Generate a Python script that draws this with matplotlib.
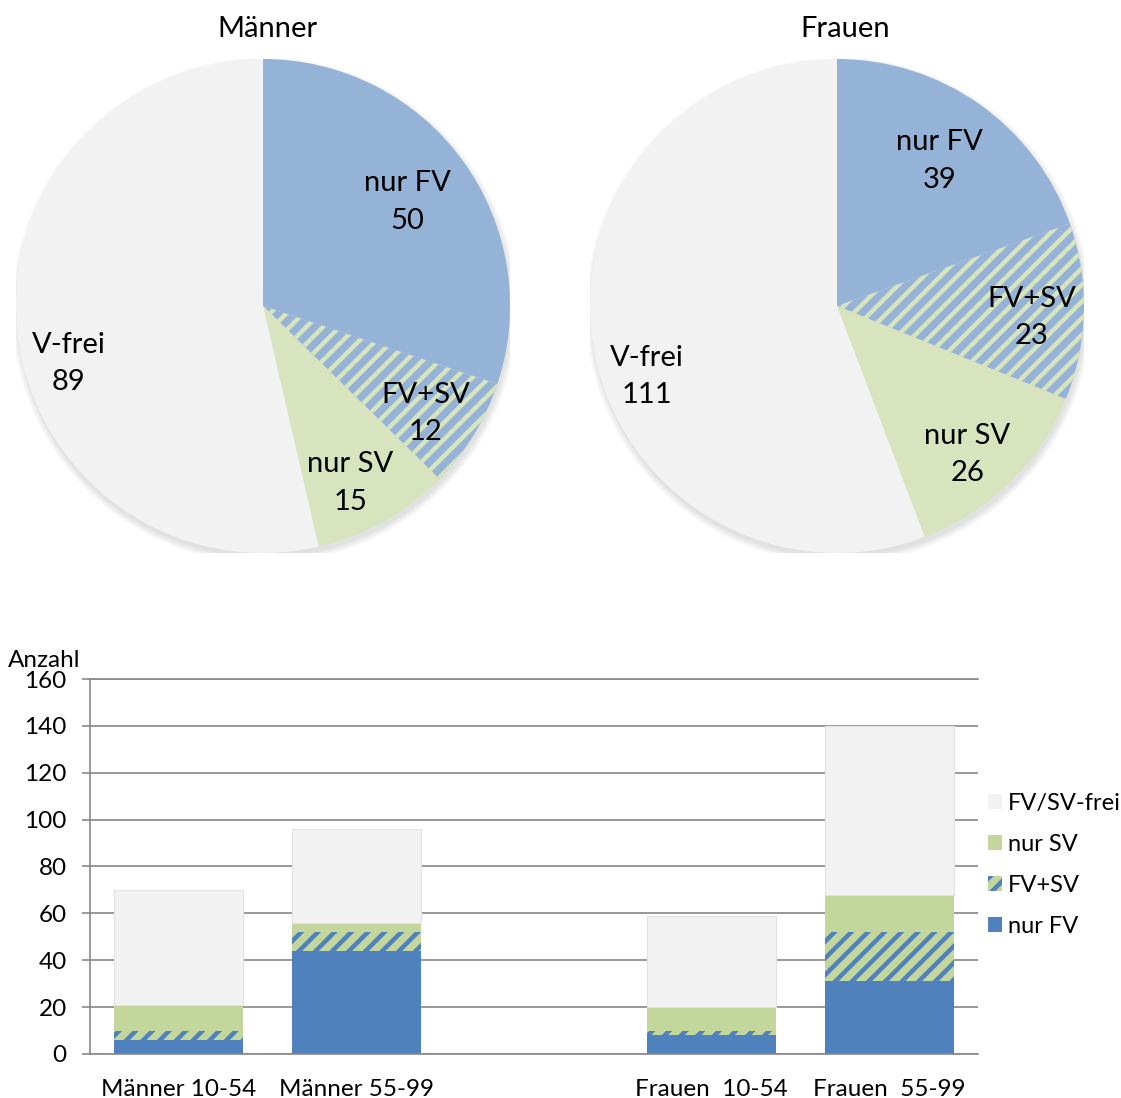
import numpy as np
import matplotlib.pyplot as plt
from matplotlib.patches import Patch, Circle

plt.rcParams['font.family'] = ['Lato', 'DejaVu Sans']
plt.rcParams['hatch.linewidth'] = 3.2

# pie slices, clockwise from 12 o'clock
pie_names = ['nur FV', 'FV+SV', 'nur SV', 'V-frei']
maenner = [50, 12, 15, 89]
frauen = [39, 23, 26, 111]

# stacked bars per sex and age group
groups = ['Männer 10-54', 'Männer 55-99', 'Frauen  10-54', 'Frauen  55-99']
nur_fv = [6, 44, 8, 31]
fv_sv = [4, 8, 2, 21]
nur_sv = [11, 4, 10, 16]
frei = [49, 40, 39, 72]

# colours
pie_cols = ['#95B3D7', '#95B3D7', '#D7E4BD', '#F2F2F2']
pie_hatch = '#D7E4BD'
blue = '#4F81BD'
green = '#C3D69B'
grey = '#F2F2F2'
axis_grey = '#888888'

# label placement inside the pies (radius, angle shift from slice middle)
lab_r = [0.72, 0.79, 0.80, 0.82]
lab_shift = [0, -2, -3, 10]

fig = plt.figure(figsize=(11.21, 10.98), dpi=100)


def draw_pie(ax, vals, title, title_x):
    # soft shadow under the disc
    for k in range(5):
        ax.add_patch(Circle((0.006, -0.018), 1.0 + 0.006 * k, color='black',
                            alpha=0.025, lw=0, zorder=0))
    wedges, _ = ax.pie(vals, colors=pie_cols, startangle=90, counterclock=False,
                       wedgeprops=dict(linewidth=0))
    wedges[1].set_edgecolor(pie_hatch)
    wedges[1].set_hatch('//')
    for w, name, v, r, sh in zip(wedges, pie_names, vals, lab_r, lab_shift):
        ang = np.deg2rad((w.theta1 + w.theta2) / 2 + sh)
        ax.text(r * np.cos(ang), r * np.sin(ang), f'{name}\n{v}', ha='center',
                va='center', multialignment='center', fontsize=21, linespacing=1.55)
    ax.set_xlim(-1, 1)
    ax.set_ylim(-1, 1)
    ax.text(title_x, 1.06, title, transform=ax.transAxes, ha='center',
            va='center', fontsize=21)


ax1 = fig.add_axes([0.0143, 0.4964, 0.4407, 0.4499])
draw_pie(ax1, maenner, 'Männer', 0.508)
ax2 = fig.add_axes([0.5263, 0.4964, 0.4407, 0.4499])
draw_pie(ax2, frauen, 'Frauen', 0.516)

# bar chart, one empty slot between men and women
ax = fig.add_axes([0.0803, 0.0401, 0.7921, 0.3415])
x = np.array([0, 1, 3, 4])
w = 0.727
b1 = np.array(nur_fv)
b2 = b1 + np.array(fv_sv)
b3 = b2 + np.array(nur_sv)
ax.bar(x, nur_fv, w, color=blue, linewidth=0)
ax.bar(x, fv_sv, w, bottom=b1, color=green, edgecolor=blue, hatch='//', linewidth=0)
ax.bar(x, nur_sv, w, bottom=b2, color=green, linewidth=0)
ax.bar(x, frei, w, bottom=b3, color=grey, edgecolor='#E2E2E2', linewidth=0.8)

ax.set_xlim(-0.5, 4.5)
ax.set_ylim(0, 160)
ax.set_yticks(np.arange(0, 161, 20))
ax.set_xticks(x)
ax.set_xticklabels(groups, fontsize=17.5)
ax.tick_params(axis='x', length=0, pad=18)
ax.tick_params(axis='y', length=5.8, width=1.2, color=axis_grey, pad=11,
               labelsize=17.5)
ax.grid(axis='y', color=axis_grey, linewidth=1.2)
ax.set_axisbelow(True)
ax.spines['right'].set_visible(False)
for s in ['left', 'top', 'bottom']:
    ax.spines[s].set_color(axis_grey)
    ax.spines[s].set_linewidth(1.2)
ax.text(-0.092, 1.05, 'Anzahl', transform=ax.transAxes, ha='left',
        va='center', fontsize=17.5)

handles = [Patch(facecolor=grey, linewidth=0),
           Patch(facecolor=green, linewidth=0),
           Patch(facecolor=green, edgecolor=blue, hatch='//', linewidth=0),
           Patch(facecolor=blue, linewidth=0)]
ax.legend(handles, ['FV/SV-frei', 'nur SV', 'FV+SV', 'nur FV'],
          loc='center left', bbox_to_anchor=(1.011, 0.504), frameon=False,
          fontsize=17, handlelength=0.62, handleheight=0.62, handletextpad=0.25,
          labelspacing=0.85, borderpad=0, borderaxespad=0)

fig.savefig('out.png', dpi=100)
